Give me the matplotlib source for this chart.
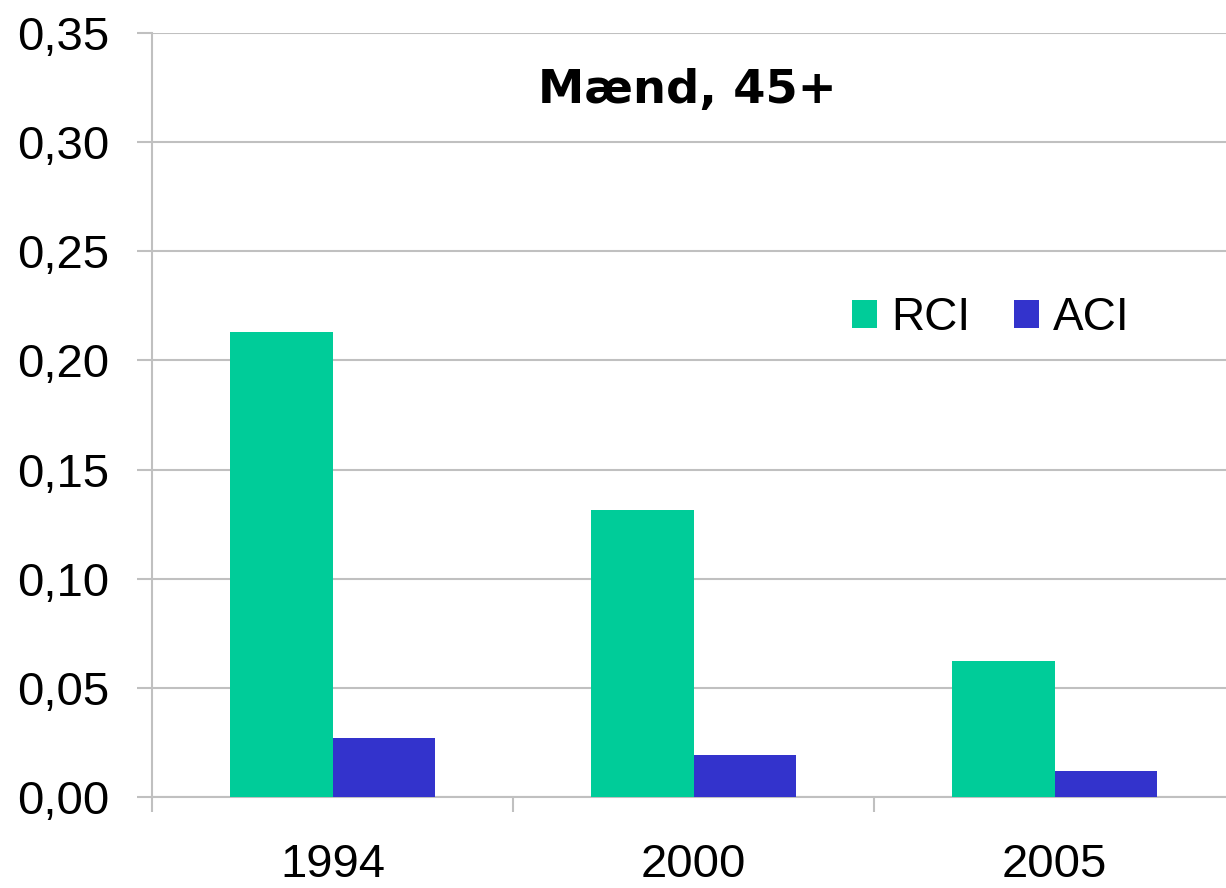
import matplotlib.pyplot as plt
import numpy as np
from matplotlib.ticker import FixedLocator

years = ["1994", "2000", "2005"]
rci = [0.213, 0.1315, 0.0623]
aci = [0.027, 0.0192, 0.0119]
yticks = [0.00, 0.05, 0.10, 0.15, 0.20, 0.25, 0.30, 0.35]

green = "#00cc99"
blue = "#3333cc"
grey = "#c0c0c0"

plt.rcParams['font.family'] = ['Liberation Sans', 'DejaVu Sans']

fig = plt.figure(figsize=(12.26, 8.88), dpi=100)
ax = fig.add_axes([152 / 1226, 91 / 888, 1083 / 1226, 764 / 888])

x = np.arange(len(years))
w = 0.285
ax.bar(x - w / 2, rci, w, color=green, label="RCI", zorder=3)
ax.bar(x + w / 2, aci, w, color=blue, label="ACI", zorder=3)

ax.set_xlim(-0.5, 2.5)
ax.set_ylim(0, 0.35)

ax.set_yticks(yticks)
ax.set_yticklabels([f"{v:.2f}".replace(".", ",") for v in yticks])
ax.set_xticks(x)
ax.set_xticklabels(years)
ax.xaxis.set_minor_locator(FixedLocator([-0.5, 0.5, 1.5, 2.5]))

ax.grid(axis="y", color=grey, linewidth=1.5, zorder=0)
ax.set_axisbelow(True)

for s in ["top", "right"]:
    ax.spines[s].set_visible(False)
for s in ["left", "bottom"]:
    ax.spines[s].set_color(grey)
    ax.spines[s].set_linewidth(1.5)

ax.tick_params(axis="y", length=11, width=1.5, color=grey, pad=20, labelsize=34)
ax.tick_params(axis="x", which="major", length=0, pad=33, labelsize=34)
ax.tick_params(axis="x", which="minor", length=11, width=1.5, color=grey)

ax.text(0.494, 0.925, "Mænd, 45+", transform=ax.transAxes, ha="center", va="center",
        fontsize=33.5, fontweight="bold", family="DejaVu Sans")

ax.legend(loc="center left", bbox_to_anchor=(852 / 1226, 1 - 318 / 888),
          bbox_transform=fig.transFigure, frameon=False, ncol=2, fontsize=33,
          handlelength=0.55, handleheight=0.55, handletextpad=0.3,
          columnspacing=0.95, borderpad=0, borderaxespad=0)

fig.savefig("out.png", dpi=100)
